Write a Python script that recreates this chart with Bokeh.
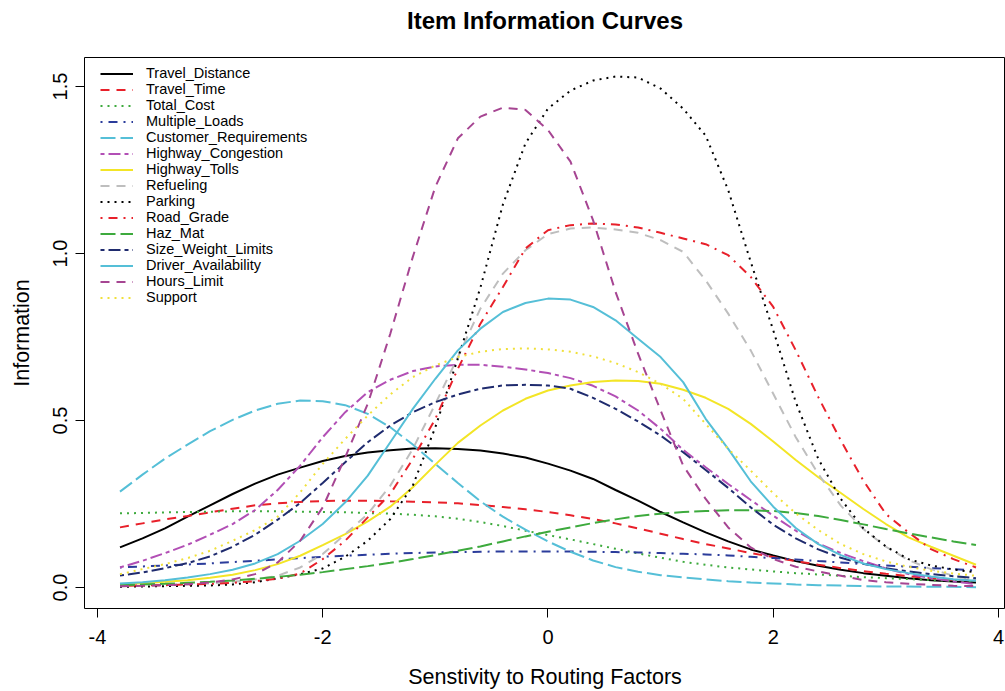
from bokeh.plotting import figure
from bokeh.models import Range1d, FixedTicker, Legend, LegendItem, Title
from bokeh.embed import file_html
from bokeh.resources import INLINE

theta = [-3.8, -3.6, -3.4, -3.2, -3.0, -2.8, -2.6, -2.4, -2.2, -2.0,
         -1.8, -1.6, -1.4, -1.2, -1.0, -0.8, -0.6, -0.4, -0.2, 0.0,
         0.2, 0.4, 0.6, 0.8, 1.0, 1.2, 1.4, 1.6, 1.8, 2.0,
         2.2, 2.4, 2.6, 2.8, 3.0, 3.2, 3.4, 3.6, 3.8]

travel_distance = [0.120, 0.147, 0.177, 0.212, 0.246, 0.280, 0.311, 0.338, 0.359, 0.379,
                   0.394, 0.404, 0.411, 0.416, 0.417, 0.415, 0.410, 0.401, 0.389, 0.371,
                   0.350, 0.325, 0.292, 0.260, 0.226, 0.195, 0.165, 0.138, 0.114, 0.096,
                   0.079, 0.065, 0.053, 0.043, 0.035, 0.028, 0.022, 0.018, 0.015]
travel_time = [0.180, 0.192, 0.204, 0.214, 0.225, 0.236, 0.246, 0.252, 0.256, 0.259,
               0.260, 0.260, 0.258, 0.257, 0.255, 0.252, 0.247, 0.241, 0.234, 0.226,
               0.216, 0.205, 0.192, 0.177, 0.161, 0.145, 0.130, 0.117, 0.103, 0.091,
               0.079, 0.068, 0.058, 0.049, 0.041, 0.034, 0.028, 0.024, 0.020]
total_cost = [0.222, 0.223, 0.225, 0.226, 0.227, 0.228, 0.228, 0.228, 0.227, 0.226,
              0.225, 0.223, 0.221, 0.218, 0.213, 0.206, 0.196, 0.184, 0.170, 0.157,
              0.144, 0.130, 0.116, 0.102, 0.089, 0.077, 0.068, 0.060, 0.054, 0.048,
              0.043, 0.039, 0.035, 0.031, 0.028, 0.025, 0.022, 0.020, 0.018]
multiple_loads = [0.060, 0.063, 0.066, 0.069, 0.072, 0.076, 0.080, 0.084, 0.088, 0.092,
                  0.095, 0.098, 0.101, 0.103, 0.105, 0.106, 0.107, 0.108, 0.108, 0.108,
                  0.108, 0.107, 0.106, 0.105, 0.103, 0.101, 0.099, 0.096, 0.092, 0.088,
                  0.084, 0.079, 0.075, 0.070, 0.066, 0.062, 0.058, 0.055, 0.051]
customer_requirements = [0.287, 0.338, 0.386, 0.428, 0.468, 0.502, 0.530, 0.550, 0.560, 0.558,
                         0.546, 0.520, 0.480, 0.428, 0.370, 0.313, 0.258, 0.212, 0.173, 0.138,
                         0.107, 0.081, 0.061, 0.047, 0.037, 0.030, 0.024, 0.019, 0.015, 0.012,
                         0.009, 0.007, 0.006, 0.004, 0.003, 0.003, 0.002, 0.002, 0.001]
highway_congestion = [0.060, 0.080, 0.103, 0.128, 0.158, 0.190, 0.232, 0.292, 0.365, 0.450,
                      0.525, 0.585, 0.622, 0.648, 0.662, 0.667, 0.667, 0.661, 0.653, 0.642,
                      0.627, 0.604, 0.572, 0.530, 0.475, 0.412, 0.360, 0.310, 0.262, 0.215,
                      0.170, 0.132, 0.103, 0.079, 0.057, 0.040, 0.028, 0.018, 0.010]
highway_tolls = [0.010, 0.013, 0.017, 0.022, 0.029, 0.038, 0.052, 0.070, 0.095, 0.127,
                 0.160, 0.198, 0.242, 0.300, 0.368, 0.433, 0.485, 0.530, 0.565, 0.590,
                 0.605, 0.615, 0.620, 0.618, 0.610, 0.592, 0.568, 0.535, 0.490, 0.437,
                 0.382, 0.330, 0.283, 0.235, 0.190, 0.150, 0.122, 0.095, 0.068]
refueling = [0.004, 0.005, 0.007, 0.009, 0.012, 0.017, 0.024, 0.035, 0.060, 0.100,
             0.160, 0.220, 0.305, 0.415, 0.550, 0.690, 0.835, 0.940, 1.010, 1.058,
             1.075, 1.078, 1.072, 1.062, 1.040, 1.005, 0.920, 0.820, 0.710, 0.580,
             0.450, 0.340, 0.245, 0.175, 0.122, 0.082, 0.055, 0.035, 0.022]
parking = [0.002, 0.003, 0.004, 0.005, 0.006, 0.009, 0.016, 0.027, 0.040, 0.057,
           0.092, 0.140, 0.205, 0.305, 0.480, 0.686, 0.898, 1.147, 1.330, 1.434,
           1.488, 1.518, 1.530, 1.527, 1.494, 1.434, 1.353, 1.190, 0.975, 0.770,
           0.555, 0.385, 0.265, 0.177, 0.123, 0.085, 0.066, 0.054, 0.045]
road_grade = [0.005, 0.006, 0.007, 0.009, 0.011, 0.014, 0.019, 0.026, 0.042, 0.085,
              0.140, 0.210, 0.280, 0.385, 0.505, 0.655, 0.790, 0.900, 1.015, 1.070,
              1.085, 1.090, 1.087, 1.078, 1.062, 1.045, 1.028, 0.995, 0.930, 0.840,
              0.710, 0.570, 0.440, 0.320, 0.220, 0.165, 0.115, 0.085, 0.060]
haz_mat = [0.007, 0.009, 0.011, 0.014, 0.017, 0.021, 0.026, 0.032, 0.038, 0.046,
           0.055, 0.064, 0.074, 0.085, 0.097, 0.110, 0.123, 0.138, 0.153, 0.167,
           0.180, 0.193, 0.204, 0.214, 0.221, 0.226, 0.229, 0.231, 0.231, 0.229,
           0.223, 0.214, 0.202, 0.189, 0.175, 0.162, 0.150, 0.138, 0.127]
size_weight_limits = [0.036, 0.045, 0.058, 0.073, 0.093, 0.122, 0.158, 0.203, 0.253, 0.313,
                      0.375, 0.435, 0.485, 0.525, 0.555, 0.578, 0.595, 0.605, 0.607, 0.605,
                      0.595, 0.568, 0.535, 0.497, 0.455, 0.405, 0.352, 0.298, 0.240, 0.188,
                      0.147, 0.114, 0.089, 0.071, 0.058, 0.048, 0.040, 0.034, 0.028]
driver_availability = [0.012, 0.016, 0.022, 0.030, 0.040, 0.053, 0.072, 0.100, 0.140, 0.190,
                       0.255, 0.335, 0.435, 0.535, 0.625, 0.710, 0.775, 0.825, 0.852, 0.865,
                       0.862, 0.840, 0.800, 0.745, 0.690, 0.615, 0.505, 0.415, 0.318, 0.242,
                       0.178, 0.130, 0.097, 0.072, 0.055, 0.043, 0.033, 0.025, 0.020]
hours_limit = [0.004, 0.005, 0.007, 0.010, 0.015, 0.024, 0.040, 0.075, 0.140, 0.240,
               0.390, 0.550, 0.760, 0.990, 1.200, 1.345, 1.410, 1.437, 1.430, 1.370,
               1.275, 1.100, 0.885, 0.700, 0.530, 0.365, 0.265, 0.180, 0.120, 0.085,
               0.062, 0.048, 0.035, 0.022, 0.016, 0.011, 0.008, 0.005, 0.004]
support = [0.040, 0.055, 0.070, 0.088, 0.110, 0.140, 0.172, 0.212, 0.285, 0.370,
           0.445, 0.515, 0.578, 0.630, 0.665, 0.690, 0.706, 0.714, 0.716, 0.713,
           0.706, 0.692, 0.672, 0.645, 0.610, 0.565, 0.490, 0.415, 0.350, 0.282,
           0.222, 0.172, 0.130, 0.100, 0.078, 0.062, 0.050, 0.042, 0.035]

item_names = ["Travel_Distance", "Travel_Time", "Total_Cost", "Multiple_Loads",
              "Customer_Requirements", "Highway_Congestion", "Highway_Tolls", "Refueling",
              "Parking", "Road_Grade", "Haz_Mat", "Size_Weight_Limits",
              "Driver_Availability", "Hours_Limit", "Support"]
item_values = [travel_distance, travel_time, total_cost, multiple_loads,
               customer_requirements, highway_congestion, highway_tolls, refueling,
               parking, road_grade, haz_mat, size_weight_limits,
               driver_availability, hours_limit, support]

title_text = "Item Information Curves"
x_ticks = [-4, -2, 0, 2, 4]
x_tick_labels = ["-4", "-2", "0", "2", "4"]
y_ticks = [0.0, 0.5, 1.0, 1.5]
y_tick_labels = ["0.0", "0.5", "1.0", "1.5"]

# styles (colour, dash) following R's col / lty cycling
SOLID, DASHED, DOTTED, DOTDASH, LONGDASH, TWODASH = "solid", "9 7", "2 5", "2 6 9 6", "15 5", "4 4 12 4"
styles = [("#000000", SOLID), ("#E8202A", DASHED), ("#3DAA3D", DOTTED), ("#2B3C9B", DOTDASH),
          ("#55BFD7", LONGDASH), ("#B24FB5", TWODASH), ("#F3E526", SOLID), ("#BEBEBE", DASHED),
          ("#000000", DOTTED), ("#E8202A", DOTDASH), ("#3DAA3D", LONGDASH), ("#1F2B6E", TWODASH),
          ("#55BFD7", SOLID), ("#A64592", DASHED), ("#F0E03A", DOTTED)]

FONT = "Liberation Sans"

p = figure(width=1005, height=691, output_backend="svg", toolbar_location=None,
           x_range=Range1d(-4.115, 4.062), y_range=Range1d(-0.0629, 1.587),
           min_border_left=84, min_border_right=0, min_border_top=57, min_border_bottom=83,
           background_fill_color="white", border_fill_color="white")

p.outline_line_color = "black"
p.outline_line_width = 1
p.grid.visible = False

for ax in (p.xaxis[0], p.yaxis[0]):
    ax.axis_line_color = None
    ax.major_tick_in = 0
    ax.major_tick_out = 9
    ax.major_tick_line_color = "black"
    ax.minor_tick_line_color = None
    ax.major_label_text_font = FONT
    ax.major_label_text_font_size = "20px"
    ax.major_label_text_color = "black"
    ax.axis_label_text_font = FONT
    ax.axis_label_text_font_size = "21.5px"
    ax.axis_label_text_font_style = "normal"
    ax.axis_label_text_color = "black"

p.xaxis.ticker = FixedTicker(ticks=x_ticks)
p.xaxis.major_label_overrides = {t: s for t, s in zip(x_ticks, x_tick_labels)}
p.yaxis.ticker = FixedTicker(ticks=y_ticks)
p.yaxis.major_label_overrides = {t: s for t, s in zip(y_ticks, y_tick_labels)}
p.yaxis.major_label_orientation = "vertical"
p.xaxis.axis_label = "Senstivity to Routing Factors"
p.yaxis.axis_label = "Information"
p.xaxis.major_label_standoff = 12
p.xaxis.axis_label_standoff = 18
p.yaxis.major_label_standoff = 8
p.yaxis.axis_label_standoff = 17

items = []
for name, vals, (col, dash) in zip(item_names, item_values, styles):
    r = p.line(theta, vals, line_color=col, line_width=2, line_dash=dash)
    items.append(LegendItem(label=name, renderers=[r]))

legend = Legend(items=items, location=(16, 303))
legend.margin = 0
legend.padding = 0
legend.spacing = 0
legend.glyph_width = 33
legend.glyph_height = 15
legend.label_height = 15
legend.label_standoff = 13
legend.label_text_font = FONT
legend.label_text_font_size = "14.5px"
legend.label_text_color = "black"
legend.border_line_color = None
legend.background_fill_alpha = 0
p.add_layout(legend)

# blank spacer between frame and title, then the title itself (stacked outward)
p.add_layout(Title(text=" ", text_font_size="1px", standoff=21), "above")
p.add_layout(Title(text=title_text, text_font=FONT, text_font_size="24px",
                   text_font_style="bold", text_color="black", align="center",
                   offset=2, standoff=0), "above")

open("out.html", "w").write(file_html(p, INLINE))
